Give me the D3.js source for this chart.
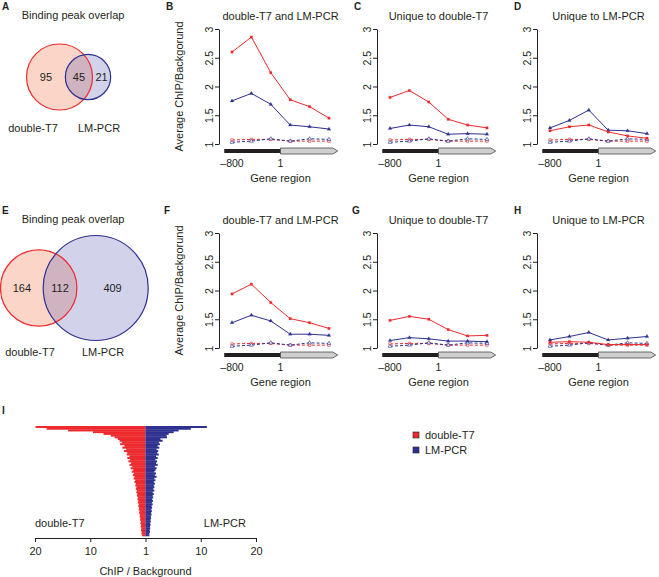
<!DOCTYPE html>
<html><head><meta charset="utf-8">
<script src="https://cdn.jsdelivr.net/npm/d3@7"></script>
<style>
body{margin:0;background:#fff}
svg{display:block}
text{font-family:"Liberation Sans",Arial,Helvetica,sans-serif;fill:#231f20}
</style>
</head><body>
<svg id="c" width="659" height="577"></svg>
<script>
// ---------- DATA ----------
const positions = [0, 1, 2, 3, 4, 5];           // sampling bins along the gene region
const xTickValues = [0, 2.5];
const xTickLabels = ["\u2013800", "1"];
const yTicks = [1, 1.5, 2, 2.5, 3];

const ctrlRed  = [1.07, 1.08, 1.08, 1.05, 1.05, 1.05];
const ctrlBlue = [1.03, 1.05, 1.09, 1.05, 1.09, 1.08];

const bRed  = [2.60, 2.86, 2.24, 1.77, 1.65, 1.45];
const bBlue = [1.75, 1.88, 1.69, 1.33, 1.30, 1.26];
const cRed  = [1.81, 1.93, 1.73, 1.43, 1.33, 1.28];
const cBlue = [1.27, 1.33, 1.30, 1.17, 1.18, 1.17];
const dRed  = [1.23, 1.30, 1.33, 1.21, 1.14, 1.10];
const dBlue = [1.28, 1.41, 1.59, 1.24, 1.23, 1.18];
const fRed  = [1.94, 2.11, 1.79, 1.51, 1.44, 1.34];
const fBlue = [1.44, 1.57, 1.47, 1.24, 1.24, 1.22];
const gRed  = [1.48, 1.55, 1.50, 1.32, 1.21, 1.22];
const gBlue = [1.13, 1.18, 1.16, 1.12, 1.12, 1.11];
const hRed  = [1.10, 1.11, 1.10, 1.06, 1.06, 1.06];
const hBlue = [1.14, 1.20, 1.27, 1.14, 1.17, 1.20];

const vennA = [95, 45, 21];     // only double-T7, both, only LM-PCR
const vennE = [164, 112, 409];
const vennLabels = ["double-T7", "LM-PCR"];

const barsRed = [19.9, 17.9, 14.0, 9.5, 7.6, 6.3, 5.6, 5.0, 4.7, 4.3, 4.6, 3.8, 4.2, 3.5, 3.9, 3.3,
  3.4, 2.9, 3.3, 2.8, 3.1, 2.6, 2.9, 2.4, 2.7, 2.2, 2.5, 2.1, 2.3, 2.0, 2.15, 1.85,
  2.0, 1.75, 1.85, 1.65, 1.75, 1.55, 1.65, 1.48, 1.55, 1.38, 1.45, 1.3, 1.38, 1.22, 1.3, 1.15,
  1.22, 1.08, 1.14, 1.0, 1.06, 0.94, 0.98, 0.86, 0.92, 0.8, 0.86, 0.74, 0.8, 0.7, 0.72, 0.62];
const barsBlue = [11.1, 8.2, 6.0, 5.1, 4.2, 3.8, 3.9, 2.7, 3.1, 2.4, 2.6, 2.2, 2.5, 2.0, 2.3, 2.1,
  2.4, 1.9, 2.2, 1.8, 2.1, 1.9, 2.2, 1.7, 2.0, 1.8, 1.6, 1.9, 1.7, 2.0, 1.6, 1.8,
  1.5, 1.7, 1.5, 1.6, 1.4, 1.6, 1.3, 1.5, 1.3, 1.4, 1.2, 1.35, 1.15, 1.3, 1.1, 1.2,
  1.05, 1.15, 1.0, 1.1, 0.95, 1.0, 0.9, 0.95, 0.85, 0.9, 0.8, 0.85, 0.75, 0.8, 0.7, 0.7];
const barTicks = [-20, -10, 0, 10, 20];
const barTickLabels = ["20", "10", "1", "10", "20"];

const legendLabels = ["double-T7", "LM-PCR"];

// ---------- STYLE ----------
const RED = "#ed2a2e", BLUE = "#2e318f";
const svg = d3.select("#c");

function letter(x, y, t) {
  svg.append("text").attr("x", x).attr("y", y).attr("font-weight", "bold")
    .attr("font-size", 10).text(t);
}

// ---------- VENN ----------
function venn(counts, cxL, cy, dist, rMax, ytitle, ylab, labX, let, lety) {
  const totL = counts[0] + counts[1], totR = counts[1] + counts[2];
  const r = d3.scaleSqrt().domain([0, Math.max(totL, totR)]).range([0, rMax]);
  const g = svg.append("g");
  const rl = r(totL), rr = r(totR);
  const cxR = cxL + dist;
  g.append("circle").attr("cx", cxL).attr("cy", cy).attr("r", rl).attr("fill", "#fbd5c8");
  g.append("circle").attr("cx", cxR).attr("cy", cy).attr("r", rr).attr("fill", "rgba(80,80,175,0.26)");
  g.append("circle").attr("cx", cxL).attr("cy", cy).attr("r", rl).attr("fill", "none").attr("stroke", RED).attr("stroke-width", 1.2);
  g.append("circle").attr("cx", cxR).attr("cy", cy).attr("r", rr).attr("fill", "none").attr("stroke", BLUE).attr("stroke-width", 1.2);
  const lx = [(cxL - rl + (cxR - rr)) / 2, ((cxR - rr) + (cxL + rl)) / 2, ((cxL + rl) + (cxR + rr)) / 2];
  counts.forEach((c, i) => g.append("text").attr("x", lx[i]).attr("y", cy + 4)
    .attr("text-anchor", "middle").attr("font-size", 11).text(c));
  g.append("text").attr("x", 73).attr("y", ytitle).attr("text-anchor", "middle").attr("font-size", 11).text("Binding peak overlap");
  g.append("text").attr("x", labX[0]).attr("y", ylab).attr("text-anchor", "middle").attr("font-size", 11).text(vennLabels[0]);
  g.append("text").attr("x", labX[1]).attr("y", ylab).attr("text-anchor", "middle").attr("font-size", 11).text(vennLabels[1]);
  letter(2, lety, let);
}
venn(vennA, 59.5, 77, 28.5, 33, 19, 132, [33, 99], "A", 10);
venn(vennE, 38.7, 288, 57, 52.5, 223, 356, [30, 103], "E", 214);

// ---------- LINE PANELS ----------
function linePanel(ax, top, let, letX, title, red, blue, yTitle) {
  const y = d3.scaleLinear().domain([1, 3]).range([top + 115, top]);
  const x = d3.scaleLinear().domain([0, 5]).range([ax + 13, ax + 110]);
  const g = svg.append("g");
  const yAx = g.append("g").attr("transform", `translate(${ax},0)`)
    .call(d3.axisLeft(y).tickValues(yTicks).tickSize(4).tickSizeOuter(0).tickFormat(d3.format("")));
  yAx.select(".domain").attr("stroke", "#231f20");
  yAx.selectAll(".tick line").attr("stroke", "#231f20");
  yAx.selectAll(".tick text").attr("x", null).attr("dy", null)
    .attr("text-anchor", "middle").attr("font-size", 10.5)
    .attr("font-family", '"Liberation Sans",Arial,sans-serif').attr("fill", "#231f20")
    .attr("transform", "translate(-6,0) rotate(-90)");
  // gene arrow
  const ay = y(1) + 7;
  g.append("rect").attr("x", x(-0.4)).attr("y", ay - 2).attr("width", x(2.5) - x(-0.4)).attr("height", 4).attr("fill", "#231f20");
  const x0 = x(2.5), x1 = x(5.45);
  g.append("path").attr("d", `M${x0},${ay - 3}L${x1 - 5},${ay - 3}L${x1},${ay}L${x1 - 5},${ay + 3}L${x0},${ay + 3}Z`)
    .attr("fill", "#cfcfcf").attr("stroke", "#333").attr("stroke-width", 0.7);
  xTickValues.forEach((v, i) => g.append("text").attr("x", x(v)).attr("y", y(1) + 23)
    .attr("text-anchor", "middle").attr("font-size", 10.5).text(xTickLabels[i]));
  g.append("text").attr("x", x(2.5)).attr("y", y(1) + 38).attr("text-anchor", "middle").attr("font-size", 11).text("Gene region");
  g.append("text").attr("x", x(2.5)).attr("y", top - 9).attr("text-anchor", "middle").attr("font-size", 11).text(title);
  letter(letX, top - 19, let);
  if (yTitle) {
    g.append("text").attr("transform", `translate(${ax - 36},${y(2)}) rotate(-90)`)
      .attr("text-anchor", "middle").attr("font-size", 11).text("Average ChIP/Backgorund");
  }
  const line = d3.line().x((d, i) => x(positions[i])).y(d => y(d));
  const series = [
    {v: ctrlRed, c: RED, dash: "3,2", sym: d3.symbolSquare, open: true},
    {v: ctrlBlue, c: BLUE, dash: "3,2", sym: d3.symbolTriangle, open: true},
    {v: blue, c: BLUE, dash: null, sym: d3.symbolTriangle, open: false},
    {v: red, c: RED, dash: null, sym: d3.symbolSquare, open: false}
  ];
  series.forEach(s => {
    g.append("path").datum(s.v).attr("d", line).attr("fill", "none").attr("stroke", s.c)
      .attr("stroke-width", 1).attr("stroke-dasharray", s.dash);
    g.selectAll(null).data(s.v).join("path")
      .attr("transform", (d, i) => `translate(${x(positions[i])},${y(d)})`)
      .attr("d", d3.symbol().type(s.sym).size(6))
      .attr("fill", s.open ? "#fff" : s.c).attr("stroke", s.c).attr("stroke-width", s.open ? 0.6 : 0.2);
  });
}
linePanel(219, 29, "B", 166, "double-T7 and LM-PCR", bRed, bBlue, true);
linePanel(377, 29, "C", 354, "Unique to double-T7", cRed, cBlue, false);
linePanel(537, 29, "D", 514, "Unique to LM-PCR", dRed, dBlue, false);
linePanel(219, 233, "F", 164, "double-T7 and LM-PCR", fRed, fBlue, true);
linePanel(377, 233, "G", 352, "Unique to double-T7", gRed, gBlue, false);
linePanel(537, 233, "H", 514, "Unique to LM-PCR", hRed, hBlue, false);

// ---------- PANEL I ----------
(function () {
  const x = d3.scaleLinear().domain([-20, 20]).range([35, 256]);
  const y = d3.scaleBand().domain(d3.range(barsRed.length)).range([426, 536]).paddingInner(0);
  const g = svg.append("g");
  g.selectAll(".br").data(barsRed).join("rect")
    .attr("x", d => x(-d)).attr("y", (d, i) => y(i)).attr("width", d => x(0) - x(-d))
    .attr("height", y.bandwidth() + 0.3).attr("fill", RED);
  g.selectAll(".bb").data(barsBlue).join("rect")
    .attr("x", x(0)).attr("y", (d, i) => y(i)).attr("width", d => x(d) - x(0))
    .attr("height", y.bandwidth() + 0.3).attr("fill", BLUE);
  const ax = g.append("g").attr("transform", "translate(0,538)")
    .call(d3.axisBottom(x).tickValues(barTicks).tickSize(4).tickSizeOuter(0)
      .tickFormat((d, i) => barTickLabels[i]));
  ax.selectAll(".tick text").attr("font-size", 11).attr("dy", "0.95em")
    .attr("font-family", '"Liberation Sans",Arial,sans-serif').attr("fill", "#231f20");
  ax.select(".domain").attr("stroke", "#231f20");
  ax.selectAll(".tick line").attr("stroke", "#231f20");
  g.append("text").attr("x", x(0)).attr("y", 575).attr("text-anchor", "middle").attr("font-size", 11).text("ChIP / Background");
  g.append("text").attr("x", 35).attr("y", 527).attr("font-size", 11).text(legendLabels[0]);
  g.append("text").attr("x", 246).attr("y", 527).attr("text-anchor", "end").attr("font-size", 11).text(legendLabels[1]);
  letter(2, 414, "I");
  // legend
  const lg = svg.append("g");
  [RED, BLUE].forEach((c, i) => {
    lg.append("rect").attr("x", 413).attr("y", 432 + i * 15).attr("width", 6).attr("height", 6)
      .attr("fill", c).attr("stroke", "#231f20").attr("stroke-width", 0.6);
    lg.append("text").attr("x", 425).attr("y", 439 + i * 15).attr("font-size", 11).text(legendLabels[i]);
  });
})();
</script>
</body></html>
